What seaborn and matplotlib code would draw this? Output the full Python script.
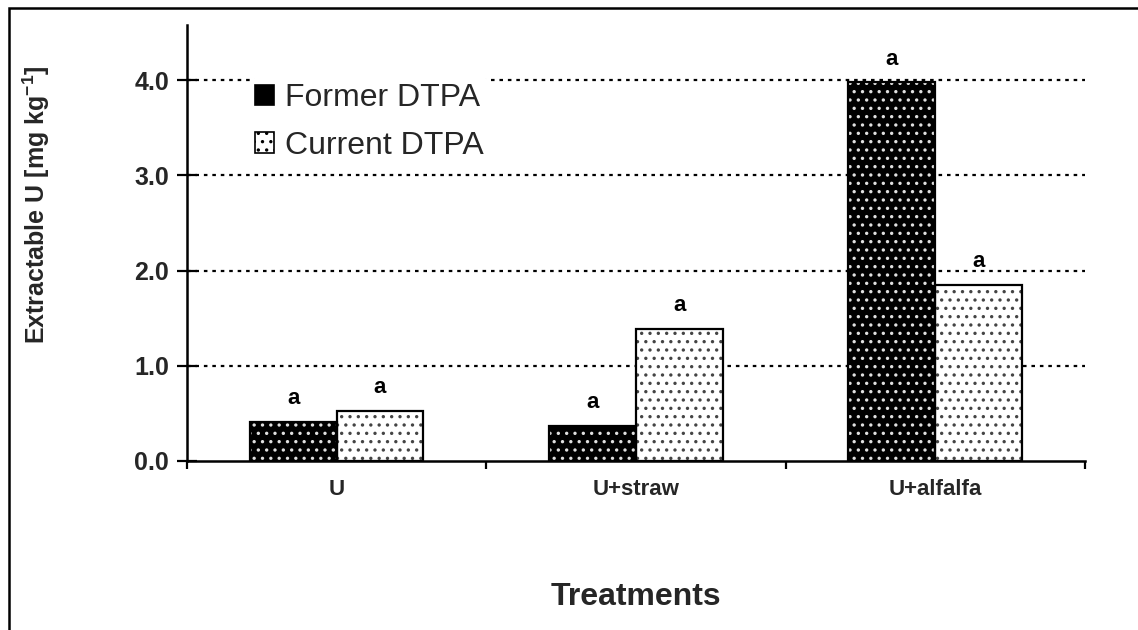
import matplotlib
matplotlib.use("Agg")
import matplotlib.pyplot as plt
from matplotlib.patches import Rectangle
import pandas as pd
import seaborn as sns

# Extractable uranium by treatment and extraction method
categories = ["U", "U+straw", "U+alfalfa"]
methods = ["Former DTPA", "Current DTPA"]
former_dtpa = [0.41, 0.37, 3.98]
current_dtpa = [0.53, 1.39, 1.85]
former_letters = ["a", "a", "a"]
current_letters = ["a", "a", "a"]
y_ticks = [0.0, 1.0, 2.0, 3.0, 4.0]

df = pd.DataFrame({
    "Treatment": categories * 2,
    "Method": [methods[0]] * 3 + [methods[1]] * 3,
    "Value": former_dtpa + current_dtpa,
})

sns.set_theme(style="white")
plt.rcParams["font.family"] = ["Liberation Sans", "DejaVu Sans"]
plt.rcParams["mathtext.fontset"] = "custom"
plt.rcParams["mathtext.rm"] = "Liberation Sans:bold"
plt.rcParams["mathtext.bf"] = "Liberation Sans:bold"
plt.rcParams["mathtext.default"] = "rm"
plt.rcParams["hatch.linewidth"] = 1.2

fig = plt.figure(figsize=(11.38, 6.30), dpi=100)
ax = fig.add_axes([0.1643, 0.2683, 0.7891, 0.6920])

styles = {
    methods[0]: dict(face="black", hatch_col="#e0e0e0", hatch="..", outline="black"),
    methods[1]: dict(face="white", hatch_col="#444444", hatch="..", outline="black"),
}

sns.barplot(data=df, x="Treatment", y="Value", hue="Method", order=categories,
            hue_order=methods, width=0.58, gap=0, ax=ax, legend=False,
            palette={m: styles[m]["face"] for m in methods}, saturation=1,
            zorder=3)

# Horizontal dotted reference lines behind the bars
for yv in y_ticks[1:]:
    ax.axhline(yv, color="black", lw=1.6, linestyle=(0, (1.6, 2.2)), zorder=1)

# Apply fill patterns and outlines to the bars (seaborn draws hue groups in order)
bar_patches = [p for p in ax.patches if isinstance(p, Rectangle)]
for i, patch in enumerate(bar_patches):
    st = styles[methods[i // len(categories)]]
    patch.set_hatch(st["hatch"])
    patch.set_edgecolor(st["hatch_col"])
    patch.set_linewidth(0)
    ax.add_patch(Rectangle(patch.get_xy(), patch.get_width(), patch.get_height(),
                           fill=False, edgecolor=st["outline"], lw=1.6, zorder=4))

# Significance letters above each bar
letters = former_letters + current_letters
for patch, letter in zip(bar_patches, letters):
    ax.annotate(letter, (patch.get_x() + patch.get_width() / 2, patch.get_height()),
                xytext=(0, 9), textcoords="offset points", ha="center", va="bottom",
                fontsize=16, fontweight="bold", color="black", zorder=5)

ax.set_xlim(-0.5, len(categories) - 0.5)
ax.set_ylim(0, 4.58)
ax.set_yticks(y_ticks)
ax.set_yticklabels([f"{v:.1f}" for v in y_ticks], fontsize=18, fontweight="bold")

# Category boundaries carry tick marks; names sit centred between them
ax.set_xticks([i - 0.5 for i in range(len(categories) + 1)])
ax.set_xticklabels([])
ax.set_xticks(range(len(categories)), minor=True)
ax.set_xticklabels(categories, minor=True, fontsize=16, fontweight="bold")
ax.tick_params(axis="x", which="major", direction="out", length=6, width=1.6,
               color="black", bottom=True)
ax.tick_params(axis="x", which="minor", length=0, pad=13)
ax.tick_params(axis="y", direction="inout", length=14, width=1.6, color="black",
               left=True, pad=6)

for side in ["top", "right"]:
    ax.spines[side].set_visible(False)
for side in ["left", "bottom"]:
    ax.spines[side].set_color("black")
    ax.spines[side].set_linewidth(1.8)
    ax.spines[side].set_zorder(6)

ax.set_xlabel("Treatments", fontsize=23, fontweight="bold")
ax.xaxis.set_label_coords(0.5, -0.2775)
ax.set_ylabel(r"Extractable U [mg kg$^{-1}$]", fontsize=18, fontweight="bold")
ax.yaxis.set_label_coords(-0.150, 0.587)

# Legend with patterned swatches
handles = [Rectangle((0, 0), 1, 1, facecolor=styles[m]["face"],
                     edgecolor=styles[m]["hatch_col"], hatch=styles[m]["hatch"], lw=0)
           for m in methods]
leg = ax.legend(handles, methods, loc="upper left", bbox_to_anchor=(0.07, 0.878),
                fontsize=23, frameon=True, facecolor="white", edgecolor="white",
                framealpha=1, handlelength=0.6, handleheight=0.6, handletextpad=0.35,
                labelspacing=0.55, borderaxespad=0, borderpad=0.16)
leg.set_zorder(7)
for h in leg.legend_handles:
    h.set_edgecolor("black")
    h.set_linewidth(1.2)

# Outer frame around the figure
fig.patches.append(Rectangle((9 / 1138, -0.1), 1.2, 1.1 - 8 / 630,
                             transform=fig.transFigure, fill=False,
                             edgecolor="black", lw=1.8, zorder=0))

fig.savefig("out.png", dpi=100, facecolor="white")
